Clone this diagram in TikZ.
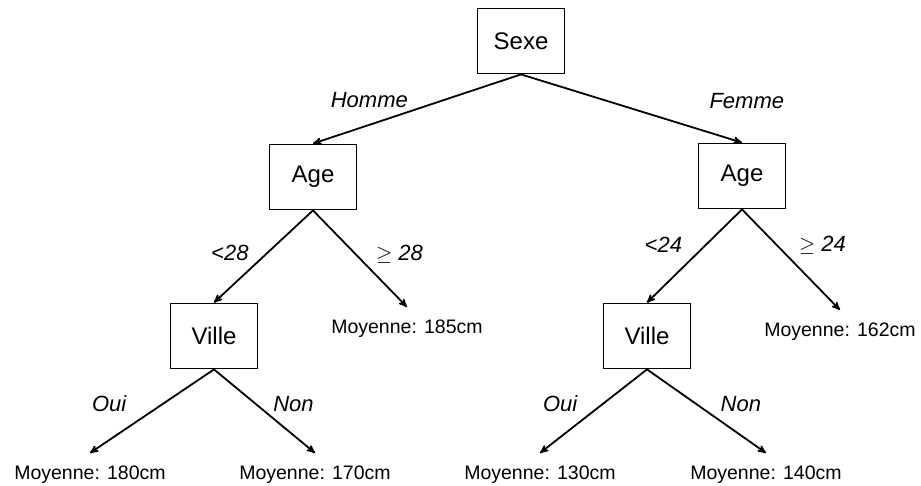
\documentclass[tikz,border=0pt]{standalone}
\usepackage{fontspec}
\setmainfont{Liberation Sans}
\usepackage{tikz}
\usetikzlibrary{arrows}
\usetikzlibrary{shapes}
\tikzstyle{tst} = [rectangle, draw, line width=1.8pt, minimum width=87pt,
    minimum height=65pt, text centered, font=\fontsize{24}{28}\selectfont]
\tikzstyle{feuille} = [anchor=north, inner xsep=2pt, inner ysep=12pt,
    font=\fontsize{19.5}{23}\selectfont]
\tikzstyle{cond} = [inner sep=2pt, font=\fontsize{22}{26}\selectfont\itshape]

\begin{document}
\begin{tikzpicture}[->,>=stealth',x=1pt,y=-1pt,line width=1.8pt]
  \useasboundingbox (0,0) rectangle (921,486);

  % tests
  \node[tst] (sexe)   at (521,41)  {Sexe};
  \node[tst] (ageH)   at (313,177) {Age};
  \node[tst] (ageF)   at (742,176) {Age};
  \node[tst] (villeH) at (214,336) {Ville};
  \node[tst] (villeF) at (647,336) {Ville};

  % feuilles
  \node[feuille] (m185) at (407,307) {Moyenne: 185cm};
  \node[feuille] (m162) at (840,310) {Moyenne: 162cm};
  \node[feuille] (m180) at (90,453)  {Moyenne: 180cm};
  \node[feuille] (m170) at (315,453) {Moyenne: 170cm};
  \node[feuille] (m130) at (540,453) {Moyenne: 130cm};
  \node[feuille] (m140) at (766,453) {Moyenne: 140cm};

  \path (sexe.south)   edge node[cond,pos=0.53,above left] {Homme} (ageH.north)
        (sexe.south)   edge node[cond,pos=0.84,above right,yshift=20pt] {Femme} (ageF.north)
        (ageH.south)   edge node[cond,pos=0.46,left,xshift=-16pt] {<28} (villeH.north)
        (ageH.south)   edge node[cond,pos=0.45,right,xshift=18pt] {$\geq$ 28} (m185.north)
        (ageF.south)   edge node[cond,pos=0.38,left,xshift=-21pt] {<24} (villeF.north)
        (ageF.south)   edge node[cond,pos=0.36,right,xshift=19pt] {$\geq$ 24} (m162.north)
        (villeH.south) edge node[cond,pos=0.41,left,xshift=-34pt] {Oui} (m180.north)
        (villeH.south) edge node[cond,pos=0.41,right,xshift=15pt] {Non} (m170.north)
        (villeF.south) edge node[cond,pos=0.41,left,xshift=-23pt] {Oui} (m130.north)
        (villeF.south) edge node[cond,pos=0.41,right,xshift=22pt] {Non} (m140.north);
\end{tikzpicture}
\end{document}
